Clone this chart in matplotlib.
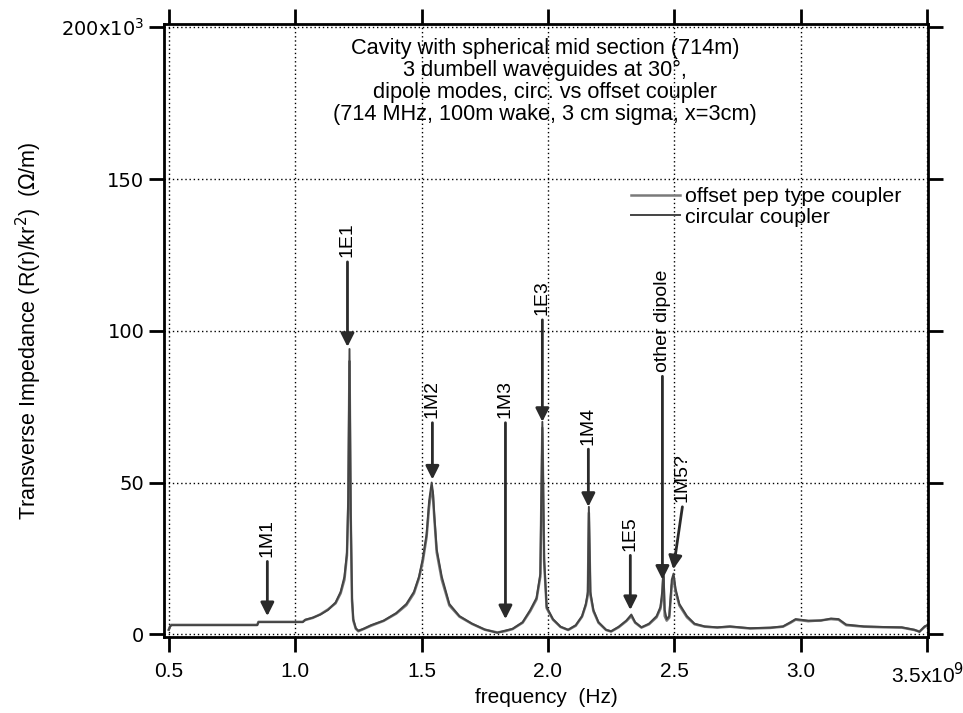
import matplotlib
matplotlib.use("Agg")
import matplotlib.pyplot as plt

# frequency in GHz, impedance in kOhm/m
freq = [0.50, 0.505, 0.51, 0.85, 0.855, 1.03, 1.04, 1.07, 1.10, 1.13, 1.16, 1.18,
        1.195, 1.205, 1.21, 1.215, 1.22, 1.225, 1.23, 1.24, 1.25, 1.27, 1.30, 1.35,
        1.40, 1.44, 1.47, 1.49, 1.505, 1.52, 1.53, 1.54, 1.545, 1.55, 1.56, 1.58,
        1.61, 1.65, 1.70, 1.75, 1.80, 1.83, 1.86, 1.90, 1.93, 1.955, 1.97, 1.978,
        1.985, 1.995, 2.02, 2.05, 2.08, 2.11, 2.135, 2.15, 2.158, 2.162, 2.168, 2.18,
        2.20, 2.23, 2.25, 2.28, 2.31, 2.33, 2.345, 2.37, 2.40, 2.43, 2.445, 2.452,
        2.457, 2.462, 2.47, 2.48, 2.49, 2.497, 2.505, 2.52, 2.55, 2.58, 2.62, 2.67,
        2.72, 2.80, 2.88, 2.93, 2.96, 2.98, 3.03, 3.08, 3.12, 3.15, 3.18, 3.25,
        3.33, 3.40, 3.45, 3.47, 3.49, 3.50]

circular = [1.5, 2.5, 3.0, 3.0, 4.0, 4.0, 4.8, 5.5, 6.5, 8.0, 10.5, 14,
            19, 27, 45, 94, 40, 12, 5, 2, 1.2, 1.8, 3, 4.5,
            7, 10, 14, 19, 25, 33, 44, 50, 47, 40, 28, 19,
            10, 6, 3.5, 1.6, 0.5, 1.2, 1.8, 4, 8, 12, 20, 70,
            25, 9, 5, 2.5, 1.5, 3, 6, 10, 14, 42, 14, 8,
            4, 1.5, 1.0, 2.5, 4.5, 6.5, 4, 2.3, 3.5, 6, 9, 14,
            22, 8, 5, 6, 18, 20, 15, 10, 6, 3.5, 2.6, 2.3,
            2.6, 2.0, 2.2, 2.6, 4.0, 5.0, 4.5, 4.5, 5.2, 5.0, 3.2, 2.6,
            2.4, 2.3, 1.5, 0.8, 2.6, 3.0]

offset = [1.5, 2.6, 3.1, 3.1, 4.1, 4.1, 4.7, 5.4, 6.6, 8.2, 10.2, 13.5,
          18, 26, 42, 90, 38, 11, 4.5, 1.8, 1.0, 1.7, 2.8, 4.4,
          6.8, 9.6, 13.5, 18.5, 24, 32, 42, 48, 46, 39, 27, 18,
          9.5, 5.8, 3.4, 1.5, 0.6, 1.0, 1.7, 3.8, 7.6, 11.5, 19, 68,
          24, 8.6, 4.8, 2.4, 1.4, 2.8, 5.8, 9.6, 13, 40, 13, 7.6,
          3.8, 1.4, 0.9, 2.3, 4.3, 6.0, 3.8, 2.2, 3.3, 5.6, 8.4, 12,
          19, 6, 4.5, 5.5, 16, 19, 14, 9.5, 5.6, 3.3, 2.5, 2.2,
          2.5, 1.9, 2.1, 2.5, 3.8, 4.8, 4.3, 4.6, 5.0, 4.8, 3.0, 2.5,
          2.3, 2.2, 1.4, 0.9, 2.4, 2.8]

# mode labels: text, arrow tip (f, Z), arrow tail (f, Z)
mode_labels = ["1M1", "1E1", "1M2", "1M3", "1E3", "1M4", "1E5", "other dipole", "1M5?"]
tip_f = [0.89, 1.207, 1.543, 1.832, 1.978, 2.160, 2.326, 2.453, 2.496]
tip_z = [6, 94.7, 51, 5, 70, 42, 8, 18, 21.4]
tail_f = [0.89, 1.207, 1.543, 1.832, 1.978, 2.160, 2.326, 2.453, 2.532]
tail_z = [24, 122.7, 69.7, 69.7, 103.6, 61, 26, 85, 42]

xticks = [0.5, 1.0, 1.5, 2.0, 2.5, 3.0, 3.5]
xticklabels = ["0.5", "1.0", "1.5", "2.0", "2.5", "3.0", "3.5x10$^9$"]
yticks = [0, 50, 100, 150, 200]
yticklabels = ["0", "50", "100", "150", "200x10$^3$"]

title_lines = ["Cavity with spherical mid section (714m)",
               "3 dumbell waveguides at 30\u00b0,",
               "dipole modes, circ. vs offset coupler",
               "(714 MHz, 100m wake, 3 cm sigma, x=3cm)"]

plt.rcParams['font.family'] = ['Liberation Sans', 'DejaVu Sans']

fig = plt.figure(figsize=(9.63, 7.13), dpi=100)
ax = fig.add_axes([0.170, 0.107, 0.794, 0.859])

ax.plot(freq, offset, color='#7a7a7a', lw=1.8, label='offset pep type coupler')
ax.plot(freq, circular, color='#444444', lw=1.4, label='circular coupler')

ax.set_xlim(0.48, 3.505)
ax.set_ylim(-0.8, 201)

ax.set_xticks(xticks)
ax.set_xticklabels(xticklabels, fontsize=15)
ax.set_yticks(yticks)
ax.set_yticklabels(yticklabels, fontsize=14, family='DejaVu Sans')
ax.tick_params(direction='out', length=11, width=2, top=True, right=True)
ax.tick_params(axis='x', pad=7)
ax.tick_params(axis='y', pad=3)
for sp in ax.spines.values():
    sp.set_linewidth(2)

ax.grid(True, linestyle=(0, (1, 2)), color='black', lw=1)
ax.set_axisbelow(True)

ax.set_xlabel("frequency  (Hz)", fontsize=15, labelpad=1)
ax.set_ylabel("Transverse Impedance (R(r)/kr$^2$)  ($\\Omega$/m)", fontsize=15.5)
ax.yaxis.set_label_coords(-0.156, 0.5)

ax.text(0.499, 0.978, "\n".join(title_lines), transform=ax.transAxes,
        ha='center', va='top', fontsize=15.7, linespacing=1.07)

for lab, tf, tz, sf, sz in zip(mode_labels, tip_f, tip_z, tail_f, tail_z):
    ax.annotate("", xy=(tf, tz), xytext=(sf, sz),
                arrowprops=dict(arrowstyle='-|>', color='#2a2a2a', lw=2,
                                mutation_scale=20, shrinkA=0, shrinkB=0))
    ax.text(sf, sz + 1.5, lab, rotation=90, ha='center', va='bottom', fontsize=14)

ax.legend(loc='upper left', bbox_to_anchor=(0.591, 0.758), frameon=False,
          fontsize=15.4, handlelength=2.3, handletextpad=0.25, labelspacing=0.05,
          borderpad=0.2)

fig.savefig("out.png", dpi=100)
